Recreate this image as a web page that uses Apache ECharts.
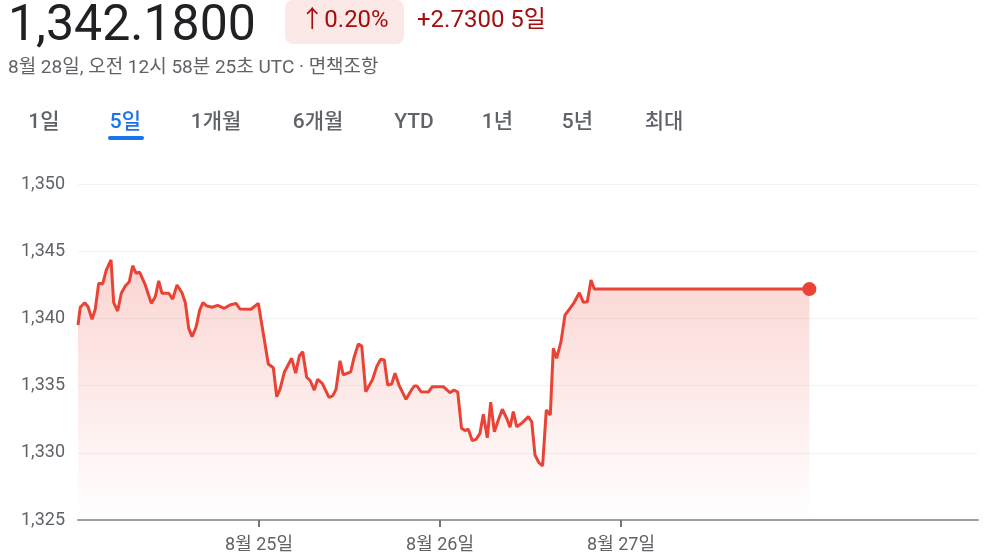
<!DOCTYPE html>
<html>
<head>
<meta charset="utf-8">
<script src="https://cdn.jsdelivr.net/npm/echarts@6/dist/echarts.min.js"></script>
<style>
html,body{margin:0;padding:0;background:#fff;}
#chart{width:987px;height:557px;}
</style>
</head>
<body>
<div id="chart"></div>
<script>
// Hours since 8월 24일 00:00 UTC
const hours = [0,0.30,0.89,1.33,1.86,2.29,2.74,3.27,3.75,4.38,4.73,5.26,5.74,6.27,6.80,7.25,7.69,8.18,8.92,9.72,10.25,10.70,11.14,12.03,12.56,13.13,13.79,14.23,14.68,15.12,15.65,16.14,16.57,17.10,17.77,
18.52,19.40,20.15,20.95,21.48,22.94,23.91,25.23,25.90,26.35,26.78,27.35,28.33,28.86,29.34,29.79,30.32,30.80,31.33,31.78,32.39,33.28,33.77,34.21,34.74,35.18,
36.16,36.63,37.17,37.62,38.15,39.07,39.60,40.14,40.61,41.06,41.59,42.03,42.56,43.49,44.15,44.59,44.95,45.48,46.45,46.98,48.44,49.32,49.85,50.35,
50.85,51.31,51.75,52.28,52.77,53.30,53.74,54.27,54.72,55.20,55.73,56.26,56.84,57.28,57.72,58.17,58.83,59.71,60.16,60.59,61.12,61.60,62.09,62.62,
63.02,63.46,64.04,64.57,65.23,65.80,66.47,67.00,67.53,68.02,68.46,96.97];
const prices = [1339.51,1340.83,1341.17,1340.87,1339.93,1340.68,1342.61,1342.56,1343.60,1344.35,1341.17,1340.55,1341.87,1342.41,1342.73,1343.92,1343.36,1343.43,1342.49,1341.12,1341.61,1342.80,1341.87,1341.87,1341.44,1342.49,1341.91,1341.17,1339.26,1338.64,1339.34,1340.63,1341.17,1340.92,1340.83,
1340.97,1340.75,1341.00,1341.12,1340.70,1340.68,1341.12,1336.61,1336.33,1334.17,1334.72,1335.99,1337.03,1335.92,1337.20,1337.52,1335.62,1335.36,1334.67,1335.47,1335.17,1334.13,1334.23,1334.72,1336.85,1335.79,
1336.03,1337.15,1338.10,1337.95,1334.55,1335.47,1336.41,1336.96,1336.90,1335.04,1335.12,1335.92,1335.04,1333.98,1334.62,1334.97,1334.97,1334.55,1334.52,1334.92,1334.92,1334.47,1334.67,1334.52,
1331.82,1331.66,1331.75,1330.90,1331.00,1331.45,1332.86,1331.12,1333.76,1331.57,1332.44,1333.24,1332.57,1331.90,1333.06,1331.94,1332.20,1332.69,1332.31,1329.84,1329.26,1329.02,1333.18,1332.81,
1337.78,1337.03,1338.27,1340.25,1340.75,1341.20,1341.91,1341.20,1341.24,1342.86,1342.18,1342.18];

const tickHours = [24, 48, 72];
const tickLabels = ['8월 25일', '8월 26일', '8월 27일'];
const tabs = ['1일', '5일', '1개월', '6개월', 'YTD', '1년', '5년', '최대'];
const tabCenters = [44, 125.5, 216, 318, 414, 497.5, 577.5, 664];

const FONT = 'Roboto, "Noto Sans CJK KR", sans-serif';
const RED = '#ea4335';

const chart = echarts.init(document.getElementById('chart'), null, {renderer: 'canvas'});

const lineData = hours.map((h, i) => [h, prices[i]]);
const last = lineData[lineData.length - 1];

const graphics = [
  {type:'text', left:8, top:3, style:{text:'1,342.1800', font:'400 50px ' + FONT, fill:'#202124'}},
  {type:'rect', shape:{x:285, y:0, width:119, height:44, r:8}, style:{fill:'#fce8e6'}},
  {type:'text', x:344.5, y:21, style:{text:'↑0.20%', font:'400 24px ' + FONT, fill:'#a50e0e', align:'center', verticalAlign:'middle'}},
  {type:'text', x:417, y:21, style:{text:'+2.7300 5일', font:'400 24px ' + FONT, fill:'#a50e0e', align:'left', verticalAlign:'middle'}},
  {type:'text', x:8, y:68, style:{text:'8월 28일, 오전 12시 58분 25초 UTC · 면책조항', font:'400 19px ' + FONT, fill:'#5f6368', align:'left', verticalAlign:'middle'}},
  {type:'rect', shape:{x:108, y:136, width:36, height:4, r:2}, style:{fill:'#1a73e8'}}
];
tabs.forEach((t, i) => {
  graphics.push({type:'text', x:tabCenters[i], y:123, style:{text:t, font:'500 21px ' + FONT, fill: i === 1 ? '#1a73e8' : '#5f6368', align:'center', verticalAlign:'middle'}});
});

chart.setOption({
  animation: false,
  grid: {left:78, right:9, top:184, bottom:37, containLabel:false},
  xAxis: {
    type:'value', min:0, max:119.33,
    axisLine:{show:true, lineStyle:{color:'#9aa0a6', width:2}},
    axisTick:{show:true, customValues:tickHours, length:7, lineStyle:{color:'#70757a', width:2}},
    axisLabel:{show:true, customValues:tickHours, margin:17, color:'#5f6368', fontSize:18, fontFamily:FONT,
      formatter: v => { const i = tickHours.indexOf(Math.round(v)); return i >= 0 ? tickLabels[i] : ''; }},
    splitLine:{show:false}
  },
  yAxis: {
    type:'value', min:1325, max:1350, interval:5,
    axisLine:{show:false}, axisTick:{show:false},
    axisLabel:{margin:13, color:'#5f6368', fontSize:18, fontFamily:FONT,
      formatter: v => String(v).replace(/\B(?=(\d{3})+(?!\d))/g, ',')},
    splitLine:{show:true, lineStyle:{color:'#f1f3f4', width:1}}
  },
  graphic: graphics,
  series: [
    {
      type:'line', data: lineData, symbol:'none', smooth:false,
      lineStyle:{color:RED, width:3},
      areaStyle:{origin:'start', color: new echarts.graphic.LinearGradient(0,0,0,1,[
        {offset:0, color:'rgba(234,67,53,0.32)'},
        {offset:1, color:'rgba(234,67,53,0.0)'}
      ])},
      z: 2
    },
    {
      type:'scatter', data:[last], symbol:'circle', symbolSize:14,
      itemStyle:{color:RED, opacity:1}, z:3
    }
  ]
});
</script>
</body>
</html>
